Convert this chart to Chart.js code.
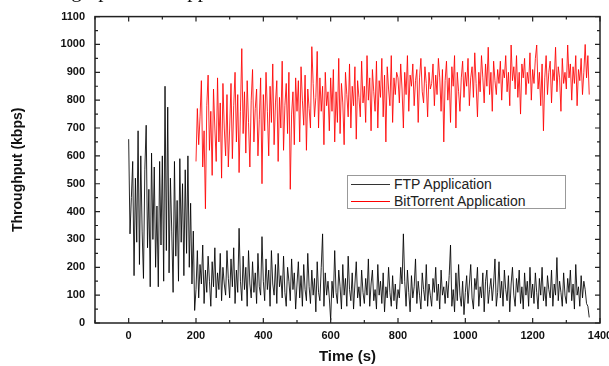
<!DOCTYPE html>
<html>
<head>
<meta charset="utf-8">
<script src="https://cdn.jsdelivr.net/npm/chart.js@4/dist/chart.umd.min.js"></script>
<style>
    body { margin: 0; background: #fff; }
    #wrap { position: relative; width: 609px; height: 366px; overflow: hidden; }
    #caption {
        position: absolute; left: 13px; top: -22px;
        font-family: 'Liberation Serif', 'Times New Roman', serif; font-size: 21px; color: #111;
        white-space: nowrap;
    }
    #legend {
        position: absolute; left: 347px; top: 175px; width: 219px; height: 34px;
        border: 1px solid #999; background: #fff; box-sizing: border-box;
        font-family: 'Liberation Sans', Arial, sans-serif; font-size: 14px; color: #222;
    }
    #legend div { position: absolute; left: 46px; line-height: 16px; }
    #legend .sample { position: absolute; left: 3px; width: 39px; height: 1px; }
</style>
</head>
<body>
<div id="wrap">
    <canvas id="thrChart" width="609" height="366"></canvas>
    <div id="caption">In this graph of the application</div>
    <div id="legend">
        <p class="sample" style="margin: 0; top: 8px; background-color: #333;"></p>
        <div style="top: 0px;">FTP Application</div>
        <p class="sample" style="margin: 0; top: 25px; background-color: #ff0000;"></p>
        <div style="top: 17px;">BitTorrent Application</div>
    </div>
</div>
<script>
// sampling of the traces (seconds)
const sampleStep = 4;
const ftpStart = 0;
const btStart = 200;

const xTickValues = [0, 200, 400, 600, 800, 1000, 1200, 1400];
const yTickValues = [0, 100, 200, 300, 400, 500, 600, 700, 800, 900, 1000, 1100];

// FTP Application throughput (kbps), 0 s .. 1368 s
const ftpThroughput = [
    660, 320, 450, 580, 170, 520, 290, 690, 210, 600, 330, 160, 550, 710, 270, 480, 130, 610, 300, 560,
    200, 420, 130, 580, 280, 600, 150, 850, 260, 775, 180, 520, 330, 110, 580, 240, 440, 150, 590, 290,
    500, 170, 550, 250, 600, 200, 430, 140, 330, 45,
    120, 260, 90, 210, 140, 280, 70, 190, 110, 240, 150, 60, 220, 130, 270, 90, 180, 120, 250, 80, 200, 140, 100, 260, 160,
    90, 230, 130, 270, 70, 190, 110, 340, 150, 80, 240, 120, 200, 60, 260, 140, 90, 220, 110, 180, 70, 250, 130, 100, 310,
    150, 80, 230, 120, 190, 60, 260, 140, 100, 210, 70, 250, 130, 170, 90, 240, 110, 60, 200, 150, 80, 230, 120, 180, 50,
    140, 220, 90, 170, 60, 210, 120, 80, 250, 130, 70, 190, 100, 160, 40, 220, 110, 80, 200, 320, 60, 180, 100, 150, 90,
    10, 150, 90, 260, 110, 70, 190, 130, 50, 210, 100, 160, 60, 240, 120, 80, 180, 50, 140, 220, 90, 130, 60, 190, 110,
    70, 160, 100, 230, 60, 140, 190, 80, 120, 50, 210, 100, 150, 70, 180, 40, 130, 90, 200, 110, 60, 170, 80, 140, 50,
    120, 90, 200, 140, 320, 150, 60, 190, 110, 40, 170, 90, 130, 230, 70, 150, 100, 50, 180, 120, 80, 210, 60, 140, 100,
    60, 160, 110, 200, 80, 140, 50, 190, 100, 130, 70, 150, 90, 170, 280, 60, 120, 40, 180, 80, 210, 100, 60, 150, 30,
    110, 170, 70, 140, 210, 90, 50, 160, 120, 200, 60, 130, 90, 180, 40, 150, 190, 70, 120, 160, 80, 140, 230, 60, 110,
    220, 90, 150, 60, 190, 120, 80, 170, 40, 140, 200, 100, 60, 160, 110, 190, 70, 130, 50, 180, 100, 150, 60, 200, 90,
    140, 70, 180, 110, 50, 160, 100, 200, 80, 130, 60, 170, 120, 90, 190, 60, 140, 100, 235, 80, 150, 110, 60, 180, 100,
    70, 160, 110, 190, 80, 140, 50, 210, 100, 130, 60, 170, 90, 150, 120, 70, 60, 20
];

// BitTorrent Application throughput (kbps), 200 s .. 1368 s
const btThroughput = [
    580, 770, 640, 740, 870, 560, 690, 410, 780, 890, 620, 760, 530, 840, 700, 580, 880, 650, 790, 520, 860, 700, 600, 820, 560,
    700, 860, 590, 780, 900, 650, 820, 540, 760, 985, 680, 830, 610, 870, 720, 560, 800, 910, 650, 770, 840, 600, 730, 880, 500,
    820, 690, 900, 760, 600, 850, 720, 930, 640, 790, 870, 580, 810, 700, 940, 620, 780, 860, 680, 900, 480, 750, 830, 640, 880,
    760, 870, 650, 920, 800, 710, 890, 620, 840, 770, 700, 992, 860, 740, 810, 975, 700, 880, 760, 850, 640, 900, 780, 830, 690,
    880, 760, 910, 650, 830, 720, 950, 680, 860, 790, 640, 900, 820, 740, 930, 700, 850, 780, 920, 660, 870, 810, 740, 940, 790,
    850, 720, 960, 800, 880, 690, 910, 830, 760, 940, 700, 870, 810, 950, 740, 890, 650, 920, 840, 780, 960, 720, 880, 820, 900,
    880, 790, 930, 840, 700, 900, 820, 960, 760, 890, 850, 930, 780, 870, 910, 720, 880, 950, 830, 790, 920, 860, 740, 900, 840,
    860, 930, 780, 890, 820, 950, 880, 760, 910, 650, 870, 940, 800, 880, 720, 920, 850, 960, 700, 900, 830, 760, 880, 940, 810,
    900, 850, 950, 780, 880, 920, 810, 970, 860, 740, 900, 830, 960, 880, 790, 930, 850, 990, 820, 900, 760, 940, 870, 820, 910,
    860, 940, 800, 910, 880, 960, 830, 900, 780, 998, 870, 920, 840, 960, 810, 900, 750, 930, 880, 950, 820, 900, 860, 970, 800,
    910, 860, 950, 998, 840, 900, 780, 930, 690, 880, 960, 820, 900, 940, 790, 910, 870, 990, 830, 920, 880, 760, 950, 860, 900,
    840, 998, 880, 930, 800, 920, 860, 960, 780, 910, 870, 950, 820, 900, 1000, 880, 960, 820
];

function toPoints(values, start) {
    return values.map((v, i) => ({ x: start + i * sampleStep, y: v }));
}

// frame on all four sides with inward ticks (Origin style)
const frameTicks = {
    id: 'frameTicks',
    afterDraw(chart) {
        const { ctx, chartArea: a, scales: { x, y } } = chart;
        ctx.save();
        ctx.strokeStyle = '#222';
        ctx.lineWidth = 1.5;
        ctx.strokeRect(a.left, a.top, a.right - a.left, a.bottom - a.top);
        ctx.lineWidth = 1.2;
        ctx.beginPath();
        for (let v = -100; v <= 1400; v += 100) {
            const px = x.getPixelForValue(v);
            const len = v % 200 === 0 ? 5 : 3;
            ctx.moveTo(px, a.bottom); ctx.lineTo(px, a.bottom - len);
            ctx.moveTo(px, a.top); ctx.lineTo(px, a.top + len);
        }
        for (let v = 0; v <= 1100; v += 50) {
            const py = y.getPixelForValue(v);
            const len = v % 100 === 0 ? 5 : 3;
            ctx.moveTo(a.left, py); ctx.lineTo(a.left + len, py);
            ctx.moveTo(a.right, py); ctx.lineTo(a.right - len, py);
        }
        ctx.stroke();
        ctx.restore();
    }
};

const fontFamily = "'Liberation Sans', Arial, sans-serif";

document.addEventListener('DOMContentLoaded', function () {
    const ctx = document.getElementById('thrChart').getContext('2d');
    new Chart(ctx, {
        type: 'line',
        data: {
            datasets: [
                {
                    label: 'FTP Application',
                    data: toPoints(ftpThroughput, ftpStart),
                    borderColor: 'rgba(0,0,0,0.85)',
                    borderWidth: 1,
                    pointRadius: 0,
                    tension: 0
                },
                {
                    label: 'BitTorrent Application',
                    data: toPoints(btThroughput, btStart),
                    borderColor: 'rgba(255,0,0,0.85)',
                    borderWidth: 1,
                    pointRadius: 0,
                    tension: 0
                }
            ]
        },
        options: {
            responsive: false,
            animation: false,
            events: [],
            layout: { padding: { top: 15, right: 9, left: 0, bottom: 0 } },
            plugins: { legend: { display: false }, tooltip: { enabled: false } },
            scales: {
                x: {
                    type: 'linear',
                    min: -100,
                    max: 1400,
                    afterBuildTicks: (scale) => { scale.ticks = xTickValues.map(v => ({ value: v })); },
                    afterFit: (scale) => {
                        scale.height = 43;
                        // let the 1400 label run off the right edge as in the original
                        scale.paddingLeft = 0;
                        scale.paddingRight = 0;
                    },
                    grid: { display: false, drawTicks: false },
                    border: { display: false },
                    ticks: {
                        padding: 6, maxRotation: 0, autoSkip: false, color: '#111',
                        callback: (v) => String(v),
                        font: { family: fontFamily, size: 11, weight: 'bold' }
                    },
                    title: { display: true, text: 'Time (s)', color: '#111', padding: { top: 0, bottom: 0 }, font: { family: fontFamily, size: 15, weight: 'bold' } }
                },
                y: {
                    min: 0,
                    max: 1100,
                    afterBuildTicks: (scale) => { scale.ticks = yTickValues.map(v => ({ value: v })); },
                    afterFit: (scale) => { scale.width = 95; },
                    grid: { display: false, drawTicks: false },
                    border: { display: false },
                    ticks: {
                        padding: 10, autoSkip: false, color: '#111',
                        callback: (v) => String(v),
                        font: { family: fontFamily, size: 11, weight: 'bold' }
                    },
                    title: { display: true, text: 'Throughput (kbps)', color: '#111', padding: { top: 10, bottom: 0 }, font: { family: fontFamily, size: 14, weight: 'bold' } }
                }
            }
        },
        plugins: [frameTicks]
    });
});
</script>
</body>
</html>
